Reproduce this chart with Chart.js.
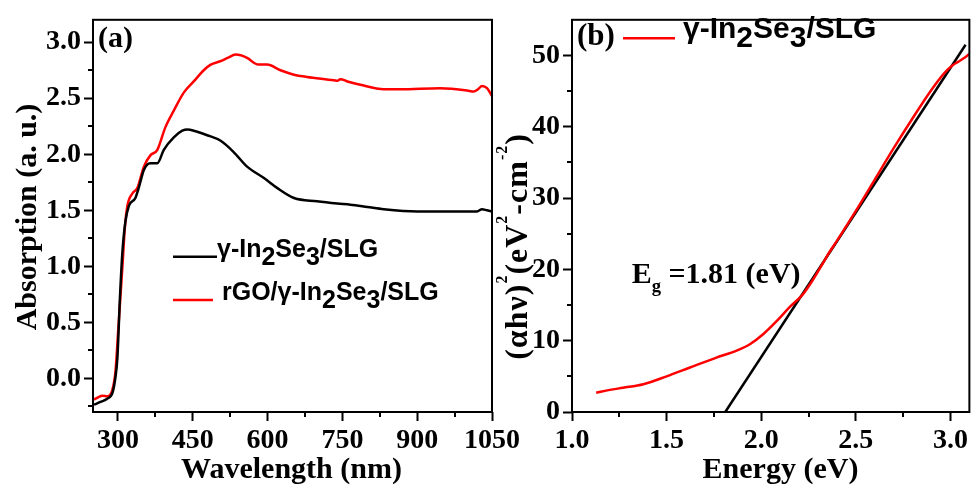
<!DOCTYPE html>
<html><head><meta charset="utf-8">
<script src="https://cdn.jsdelivr.net/npm/chart.js@4.4.0/dist/chart.umd.min.js"></script>
<style>
html,body{margin:0;padding:0;background:#fff;width:971px;height:488px;overflow:hidden;}
#pa{position:absolute;left:0;top:0;width:530px;height:488px;}
#pb{position:absolute;left:495px;top:0;width:476px;height:488px;}
</style></head><body>
<div id="pa"><canvas id="ca"></canvas></div>
<div id="pb"><canvas id="cb"></canvas></div>
<script>
// ---------- Panel (a): absorption spectra ----------
const wlBlack  = [252,265,279,289,295,299,304,309,315,322,335,343,352,365,379,392,412,429,440,452,479,506,532,559,592,619,653,699,740,766,800,833,900,950,1000,1020,1030,1040,1050];
const absBlack = [-0.235,-0.21,-0.18,-0.13,0.01,0.19,0.72,1.13,1.40,1.54,1.61,1.72,1.86,1.92,1.92,2.04,2.15,2.21,2.22,2.21,2.17,2.12,2.02,1.89,1.79,1.70,1.61,1.58,1.56,1.55,1.53,1.51,1.49,1.49,1.49,1.49,1.51,1.50,1.49];
const wlRed    = [252,262,269,279,289,295,301,309,314,319,329,339,352,365,379,395,412,432,452,472,486,505,520,536,559,575,582,599,626,653,679,733,740,746,760,786,833,866,946,1000,1013,1022,1030,1040,1050];
const absRed   = [-0.19,-0.165,-0.155,-0.16,-0.10,0.06,0.46,1.0,1.35,1.54,1.65,1.70,1.89,1.99,2.04,2.24,2.39,2.55,2.65,2.75,2.80,2.83,2.86,2.89,2.86,2.81,2.80,2.80,2.75,2.71,2.69,2.66,2.655,2.67,2.65,2.62,2.58,2.58,2.59,2.57,2.56,2.58,2.61,2.59,2.52];
const seriesA  = ['γ-In_{2}Se_{3}/SLG', 'rGO/γ-In_{2}Se_{3}/SLG'];
const xTicksA  = [300,450,600,750,900,1050];
const xMinorA  = [375,525,675,825,975];
const yTicksA  = [0,0.5,1,1.5,2,2.5,3];
const yMinorA  = [-0.25,0.25,0.75,1.25,1.75,2.25,2.75];

// ---------- Panel (b): Tauc plot ----------
const energy   = [1.128,1.2,1.27,1.377,1.5,1.62,1.76,1.87,1.94,2.01,2.08,2.15,2.22,2.27,2.32,2.36,2.4,2.5,2.6,2.7,2.8,2.9,2.97,3.01,3.04,3.07,3.1];
const ahv2     = [2.7,3.1,3.4,3.9,5.0,6.2,7.6,8.6,9.5,10.9,12.7,14.7,16.5,18.4,20.6,22.4,24.0,28.2,32.6,37.0,41.2,45.2,47.6,48.6,49.1,49.6,50.2];
const fitE     = [1.81, 3.08];
const fitY     = [0, 51.5];
const seriesB  = ['γ-In_{2}Se_{3}/SLG', 'Linear fit'];
const xTicksB  = [1,1.5,2,2.5,3];
const xMinorB  = [1.25,1.75,2.25,2.75];
const yTicksB  = [0,10,20,30,40,50];
const yMinorB  = [5,15,25,35,45];

const pts = (xs, ys) => xs.map((x, i) => ({x: x, y: ys[i]}));
const plain = s => s.replace(/_\{(.*?)\}/g, '$1').replace(/\^\{(.*?)\}/g, '$1');

function parseMarkup(s){
  const out=[]; let i=0, buf='';
  while(i<s.length){
    const c=s[i];
    if((c==='_'||c==='^') && s[i+1]==='{'){
      if(buf){out.push({t:buf,k:'n'});buf='';}
      const j=s.indexOf('}',i+2);
      out.push({t:s.slice(i+2,j),k:c==='_'?'sub':'sup'});
      i=j+1;
    } else {buf+=c;i++;}
  }
  if(buf) out.push({t:buf,k:'n'});
  return out;
}
function drawRich(ctx, it){
  const segs=parseMarkup(it.text);
  const sz=it.size, fam=it.family, wt=it.weight||'bold';
  const subS=it.subScale??1, supS=it.supScale??0.55;
  const subDy=it.subShift??0.3, supDy=it.supShift??0.45;
  const ls=it.ls||0;
  const font=k=>{const s=k==='sub'?sz*subS:k==='sup'?sz*supS:sz; return wt+' '+s+'px "'+fam+'"';};
  ctx.save();
  let total=0;
  segs.forEach(g=>{ctx.font=font(g.k); g.w=ctx.measureText(g.t).width + ls*g.t.length; total+=g.w;});
  ctx.translate(it.x,it.y);
  if(it.rotate) ctx.rotate(it.rotate*Math.PI/180);
  let x0 = it.align==='center'? -total/2 : it.align==='right'? -total : 0;
  ctx.fillStyle=it.color||'#000'; ctx.textBaseline='alphabetic'; ctx.textAlign='left';
  segs.forEach(g=>{
    ctx.font=font(g.k);
    const dy=g.k==='sub'?subDy*sz:g.k==='sup'?-supDy*sz:0;
    if(ls){
      let cx=x0;
      for(const ch of g.t){ctx.fillText(ch,cx,dy); cx+=ctx.measureText(ch).width+ls;}
    } else ctx.fillText(g.t,x0,dy);
    x0+=g.w;
  });
  ctx.restore();
}

const decor = {
  id:'decor',
  afterDraw(chart, args, o){
    const ctx=chart.ctx, a=chart.chartArea, sx=chart.scales.x, sy=chart.scales.y;
    ctx.save();
    ctx.strokeStyle='#000'; ctx.lineWidth=2;
    ctx.beginPath();
    (o.xMinor||[]).forEach(v=>{const p=Math.round(sx.getPixelForValue(v)); ctx.moveTo(p,a.bottom); ctx.lineTo(p,a.bottom+o.minorLen);});
    (o.yMinor||[]).forEach(v=>{const p=Math.round(sy.getPixelForValue(v)); ctx.moveTo(a.left,p); ctx.lineTo(a.left-o.minorLen,p);});
    ctx.stroke();
    ctx.strokeRect(a.left, a.top, a.right-a.left, a.bottom-a.top);
    (o.legend||[]).forEach(e=>{
      const ds=chart.data.datasets[e.ds];
      ctx.strokeStyle=ds.borderColor; ctx.lineWidth=ds.borderWidth;
      ctx.beginPath(); ctx.moveTo(e.x1,e.y); ctx.lineTo(e.x2,e.y); ctx.stroke();
      drawRich(ctx, Object.assign({x:e.tx,y:e.ty,family:'Liberation Sans',weight:'bold',align:'left'}, e));
    });
    (o.texts||[]).forEach(t=>drawRich(ctx,t));
    ctx.restore();
  }
};

const tickFont = {family:'Liberation Serif', weight:'bold', size:28};
function axis(min,max,ticks,fmt,fit,pad){
  return {type:'linear', min:min, max:max,
    afterBuildTicks:s=>{s.ticks=ticks.map(v=>({value:v}));},
    afterFit:fit,
    ticks:{callback:fmt, font:tickFont, color:'#000', padding:pad, autoSkip:false, maxRotation:0, minRotation:0},
    grid:{drawOnChartArea:false, drawTicks:true, tickLength:9, tickWidth:2, tickColor:'#000'},
    border:{display:false}
  };
}
Chart.defaults.color='#000';

new Chart(document.getElementById('ca'), {
  type:'line',
  data:{datasets:[
    {label:plain(seriesA[0]), data:pts(wlBlack,absBlack), borderColor:'#000000', borderWidth:2.5, pointRadius:0, cubicInterpolationMode:'monotone', fill:false},
    {label:plain(seriesA[1]), data:pts(wlRed,absRed), borderColor:'#ff0000', borderWidth:2.5, pointRadius:0, cubicInterpolationMode:'monotone', fill:false}
  ]},
  options:{
    responsive:true, maintainAspectRatio:false, animation:false, events:[],
    layout:{padding:{top:13,right:38,left:0,bottom:0}},
    scales:{
      x:axis(250,1050,xTicksA,v=>String(v),s=>{s.height=76;},3),
      y:axis(-0.3,3.2,yTicksA,v=>Number(v).toFixed(1),s=>{s.width=93;},3)
    },
    plugins:{legend:{display:false}, tooltip:{enabled:false},
      decor:{minorLen:5, xMinor:xMinorA, yMinor:yMinorA,
        legend:[
          {ds:0, x1:173, x2:217, y:256.7, tx:217, ty:263.3, size:25, text:seriesA[0], subShift:0.33},
          {ds:1, x1:173, x2:213, y:300, tx:222, ty:306.7, size:25, text:seriesA[1], subShift:0.33}
        ],
        texts:[
          {text:'(a)', x:98, y:47, size:30, family:'Liberation Serif', align:'left'},
          {text:'Absorption (a. u.)', x:36, y:217, size:30, family:'Liberation Serif', align:'center', rotate:-90},
          {text:'Wavelength (nm)', x:291.5, y:478, size:30, family:'Liberation Serif', align:'center'}
        ]}
    }
  },
  plugins:[decor]
});

new Chart(document.getElementById('cb'), {
  type:'line',
  data:{datasets:[
    {label:plain(seriesB[0]), data:pts(energy,ahv2), borderColor:'#ff0000', borderWidth:2.5, pointRadius:0, cubicInterpolationMode:'monotone', fill:false},
    {label:seriesB[1], data:pts(fitE,fitY), borderColor:'#000000', borderWidth:2.5, pointRadius:0, fill:false}
  ]},
  options:{
    responsive:true, maintainAspectRatio:false, animation:false, events:[],
    layout:{padding:{top:14,right:1,left:0,bottom:0}},
    scales:{
      x:axis(1.0,3.1,xTicksB,v=>Number(v).toFixed(1),s=>{s.height=76;},3),
      y:axis(0,55,yTicksB,v=>String(v),s=>{s.width=77;},3)
    },
    plugins:{legend:{display:false}, tooltip:{enabled:false},
      decor:{minorLen:5, xMinor:xMinorB, yMinor:yMinorB,
        legend:[
          {ds:0, x1:128, x2:180, y:38.3, tx:188, ty:45, size:30, text:seriesB[0], subShift:0.28}
        ],
        texts:[
          {text:'(b)', x:82, y:45, size:31, family:'Liberation Serif', align:'left'},
          {text:'(αhν)^{2}(eV^{2}-cm^{-2})', x:32, y:246.5, size:32, family:'Liberation Serif', align:'center', rotate:-90, supScale:0.5, supShift:0.62, ls:1},
          {text:'Energy (eV)', x:285.5, y:478, size:30, family:'Liberation Serif', align:'center'},
          {text:'E_{g} =1.81 (eV)', x:136.7, y:283.3, size:30, family:'Liberation Serif', align:'left', subScale:0.62, subShift:0.3}
        ]}
    }
  },
  plugins:[decor]
});
</script>
</body></html>
